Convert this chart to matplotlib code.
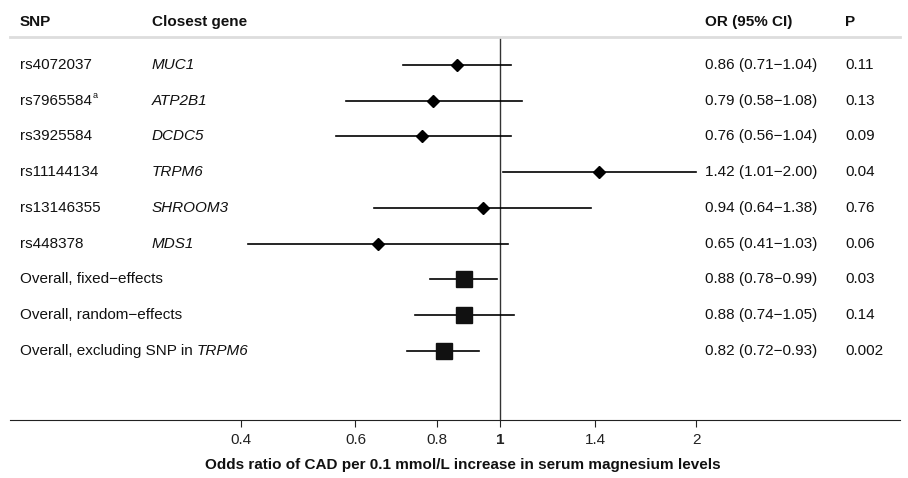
import matplotlib
matplotlib.use("Agg")
import matplotlib.pyplot as plt
from matplotlib.lines import Line2D

plt.rcParams['font.family'] = ['Liberation Sans', 'DejaVu Sans']

# data
snps = ["rs4072037", "rs7965584", "rs3925584", "rs11144134", "rs13146355", "rs448378"]
snp_notes = ["", "a", "", "", "", ""]
genes = ["MUC1", "ATP2B1", "DCDC5", "TRPM6", "SHROOM3", "MDS1"]
overall_labels = ["Overall, fixed\u2212effects", "Overall, random\u2212effects",
                  "Overall, excluding SNP in "]
overall_italic = ["", "", "TRPM6"]
odds = [0.86, 0.79, 0.76, 1.42, 0.94, 0.65, 0.88, 0.88, 0.82]
ci_low = [0.71, 0.58, 0.56, 1.01, 0.64, 0.41, 0.78, 0.74, 0.72]
ci_high = [1.04, 1.08, 1.04, 2.00, 1.38, 1.03, 0.99, 1.05, 0.93]
p_values = ["0.11", "0.13", "0.09", "0.04", "0.76", "0.06", "0.03", "0.14", "0.002"]
ticks = [0.4, 0.6, 0.8, 1, 1.4, 2]

W, H = 908, 478
fig = plt.figure(figsize=(W / 100, H / 100), dpi=100)
ax = fig.add_axes([10 / W, (H - 420) / H, 890 / W, (420 - 38) / H])
ax.set_xscale('log')
ax.set_xlim(0.177, 4.11)
ax.set_ylim(9.93, -0.755)

fs = 11
tc = '#111111'
col = lambda px: (px - 10) / 890
tr = ax.get_yaxis_transform()  # x in axes fraction, y in data

n_snp = len(snps)
for i in range(len(odds)):
    ax.plot([ci_low[i], ci_high[i]], [i, i], color='black', lw=1.2, zorder=2)
    if i < n_snp:
        ax.plot(odds[i], i, marker='D', color='black', ms=6.5, zorder=3)
    else:
        ax.plot(odds[i], i, marker='s', color=tc, ms=12, zorder=3)
    ax.text(col(705), i, "%.2f (%.2f\u2212%.2f)" % (odds[i], ci_low[i], ci_high[i]),
            transform=tr, fontsize=fs, va='center', color=tc)
    ax.text(col(845), i, p_values[i], transform=tr, fontsize=fs, va='center', color=tc)

for i in range(n_snp):
    t = ax.text(col(20), i, snps[i], transform=tr, fontsize=fs, va='center', color=tc)
    if snp_notes[i]:
        ax.annotate(snp_notes[i], xy=(1, 1), xycoords=t, xytext=(0.5, 2),
                    textcoords='offset points', fontsize=6.5, va='top', color=tc)
    ax.text(col(152), i, genes[i], transform=tr, fontsize=fs, va='center',
            style='italic', color=tc)
for j, lab in enumerate(overall_labels):
    t = ax.text(col(20), n_snp + j, lab, transform=tr, fontsize=fs, va='center', color=tc)
    if overall_italic[j]:
        ax.annotate(overall_italic[j], xy=(1, 0), xycoords=t, fontsize=fs,
                    va='bottom', style='italic', color=tc)

# headers
for px, h in [(20, "SNP"), (152, "Closest gene"), (705, "OR (95% CI)"), (845, "P")]:
    ax.text(col(px), -1.2, h, transform=tr, fontsize=fs, va='center',
            fontweight='bold', clip_on=False, color=tc)
fig.add_artist(Line2D([10 / W, 900 / W], [(H - 37) / H] * 2, color='#dddddd', lw=2))

ax.axvline(1, color='#333333', lw=1, zorder=1)

for s in ['top', 'left', 'right']:
    ax.spines[s].set_visible(False)
ax.spines['bottom'].set_color('#222222')
ax.set_yticks([])
ax.set_xticks(ticks)
ax.set_xticklabels([str(t) for t in ticks], fontsize=fs, color='#222222')
ax.minorticks_off()
ax.tick_params(axis='x', length=5, color='#222222', pad=4)
for lab in ax.get_xticklabels():
    if lab.get_text() == "1":
        lab.set_fontweight('bold')
ax.set_xlabel("Odds ratio of CAD per 0.1 mmol/L increase in serum magnesium levels",
              fontsize=fs, fontweight='bold', color=tc)
ax.xaxis.set_label_coords(col(463), -0.1)

fig.savefig("out.png", dpi=100)
